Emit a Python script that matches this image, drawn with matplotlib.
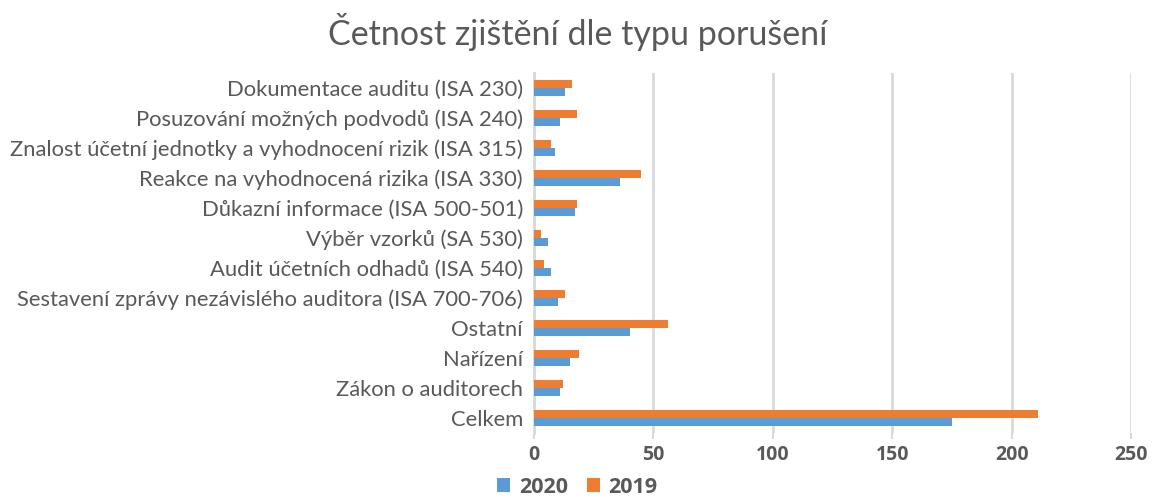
import matplotlib
matplotlib.use("Agg")
import matplotlib.pyplot as plt
import numpy as np

plt.rcParams['font.family'] = ['Lato', 'DejaVu Sans']

categories = [
    "Dokumentace auditu (ISA 230)",
    "Posuzování možných podvodů (ISA 240)",
    "Znalost účetní jednotky a vyhodnocení rizik (ISA 315)",
    "Reakce na vyhodnocená rizika (ISA 330)",
    "Důkazní informace (ISA 500-501)",
    "Výběr vzorků (SA 530)",
    "Audit účetních odhadů (ISA 540)",
    "Sestavení zprávy nezávislého auditora (ISA 700-706)",
    "Ostatní",
    "Nařízení",
    "Zákon o auditorech",
    "Celkem",
]
values_2020 = [13, 11, 9, 36, 17, 6, 7, 10, 40, 15, 11, 175]
values_2019 = [16, 18, 7, 45, 18, 3, 4, 13, 56, 19, 12, 211]
x_ticks = [0, 50, 100, 150, 200, 250]

gray = "#595959"
c2020 = "#5B9BD5"
c2019 = "#ED7D31"

fig = plt.figure(figsize=(11.55, 5.03), dpi=100)
ax = fig.add_axes([534/1155, 1 - 433/503, (1131-534)/1155, 360/503])

y = np.arange(len(categories))
h = 0.27
ax.barh(y + h/2, values_2020, height=h, color=c2020, label="2020", zorder=3)
ax.barh(y - h/2, values_2019, height=h, color=c2019, label="2019", zorder=3)

ax.set_ylim(len(categories) - 0.5, -0.5)
ax.set_xlim(0, 250)
ax.set_yticks(y)
ax.set_yticklabels(categories, fontsize=15.8, color=gray)
ax.set_xticks(x_ticks)
ax.set_xticklabels([str(t) for t in x_ticks], fontsize=14, color=gray, fontweight='bold',
                   family=['Open Sans', 'DejaVu Sans'])
ax.tick_params(axis='y', length=0, pad=8)
ax.tick_params(axis='x', length=4, width=1.5, color="#D9D9D9", pad=5)
ax.grid(axis='x', color="#D9D9D9", linewidth=2, zorder=0)
for s in ['top', 'right', 'bottom']:
    ax.spines[s].set_visible(False)
ax.spines['left'].set_color("#D9D9D9")
ax.spines['left'].set_linewidth(2)

fig.suptitle("Četnost zjištění dle typu porušení", fontsize=24.5, color=gray, y=0.975)

handles, labels = ax.get_legend_handles_labels()
fig.legend(handles, labels, loc='lower center', bbox_to_anchor=(0.5, -0.028), ncol=2,
           frameon=False, prop={'size': 15.5, 'weight': 'bold', 'family': ['Open Sans', 'DejaVu Sans']},
           labelcolor=gray,
           handlelength=0.6, handleheight=0.6, handletextpad=0.4, columnspacing=0.9)

fig.savefig("out.png", dpi=100)
